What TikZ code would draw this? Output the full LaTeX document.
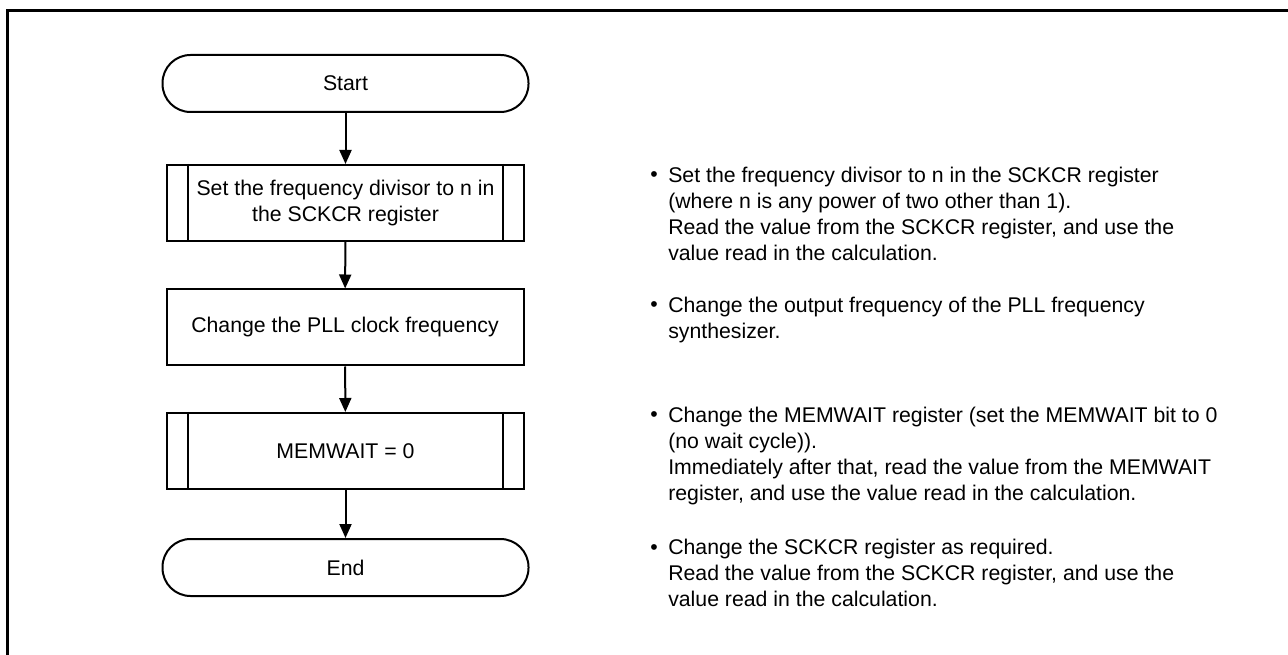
\documentclass[tikz,border=0pt]{standalone}
\usepackage{fontspec}
\setmainfont{Liberation Sans}
\usetikzlibrary{arrows.meta}
\begin{document}
\begin{tikzpicture}[x=0.75pt,y=-0.75pt,
  every node/.style={font=\fontsize{15.95pt}{19.5pt}\selectfont},
  term/.style={draw, line width=1.5pt, rounded corners=21pt, minimum width=274.5pt, minimum height=42.75pt, inner sep=0pt},
  proc/.style={draw, line width=1.5pt, minimum width=267.75pt, minimum height=57pt, inner sep=0pt, align=center},
  flow/.style={line width=1.5pt, -{Triangle[width=9pt,length=10.5pt]}},
  note/.style={anchor=north west, align=left, inner sep=0pt},
  bul/.style={anchor=base west, inner sep=0pt}
]
\useasboundingbox (0,0) rectangle (1288,655);
% frame
\draw[line width=2.3pt] (7.5,655) -- (7.5,10.5) -- (1288,10.5);

% flowchart
\node[term] (start) at (345.5,83.5) {Start};
\node[proc] (s1) at (345.5,203) {Set the frequency divisor to n in\\the SCKCR register};
\node[proc] (s2) at (345,327.5) {Change the PLL clock frequency};
\node[proc] (s3) at (345.5,451) {MEMWAIT = 0};
\node[term] (end) at (345.5,567.5) {End};

\foreach \n in {s1,s3}{
  \draw[line width=1.5pt] ([xshift=16.5pt]\n.north west) -- ([xshift=16.5pt]\n.south west);
  \draw[line width=1.5pt] ([xshift=-16.5pt]\n.north east) -- ([xshift=-16.5pt]\n.south east);
}

\draw[flow] (start) -- (s1);
\draw[flow] (s1) -- (s2);
\draw[flow] (s2) -- (s3);
\draw[flow] (s3) -- (end);

% notes (north = first baseline - 18.2)
\node[bul] (d1) at (650,182) {•};
\node[note] (n1) at (668,163.8) {\strut Set the frequency divisor to n in the SCKCR register\\(where n is any power of two other than 1).\\Read the value from the SCKCR register, and use the\\value read in the calculation.};
\node[bul] (d2) at (650,312) {•};
\node[note] (n2) at (668,293.8) {\strut Change the output frequency of the PLL frequency\\synthesizer.};
\node[bul] (d3) at (650,422) {•};
\node[note] (n3) at (668,403.8) {\strut Change the MEMWAIT register (set the MEMWAIT bit to 0\\(no wait cycle)).\\Immediately after that, read the value from the MEMWAIT\\register, and use the value read in the calculation.};
\node[bul] (d4) at (650,554) {•};
\node[note] (n4) at (668,535.8) {\strut Change the SCKCR register as required.\\Read the value from the SCKCR register, and use the\\value read in the calculation.};
\end{tikzpicture}
\end{document}
